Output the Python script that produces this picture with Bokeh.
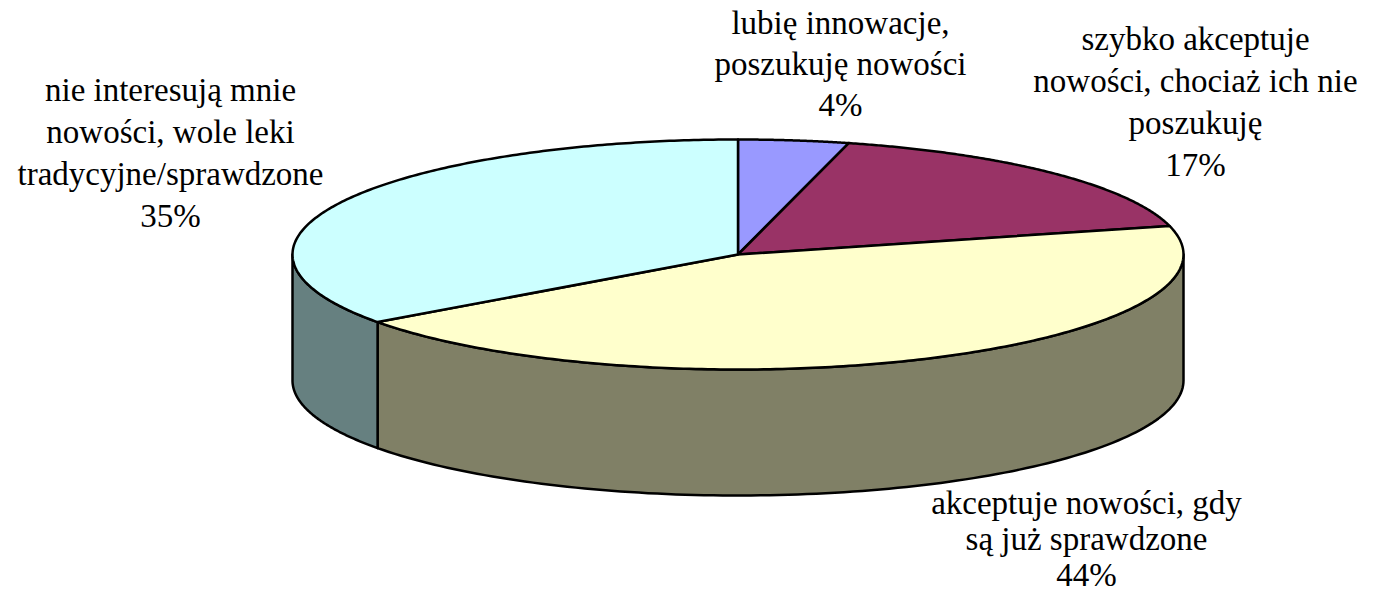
import numpy as np
from bokeh.plotting import figure
from bokeh.models import Range1d, ColumnDataSource
from bokeh.core.properties import value
from bokeh.embed import file_html
from bokeh.resources import INLINE

# ---- data ----
values = [4, 17, 44, 35]
label_lines = [
    ["lubię innowacje,", "poszukuję nowości"],
    ["szybko akceptuje", "nowości, chociaż ich nie", "poszukuję"],
    ["akceptuje nowości, gdy", "są już sprawdzone"],
    ["nie interesują mnie", "nowości, wole leki", "tradycyjne/sprawdzone"],
]
top_colors = ["#9999FF", "#993366", "#FFFFCC", "#CCFFFF"]
side_colors = ["#4C4C80", "#4C1933", "#808066", "#668080"]

# ---- layout (screen pixel coords of the reference) ----
cx, cy, rx, ry, depth = 737.5, 254.0, 445.5, 115.0, 126.0
base_shift = -14
label_anchor = [(840, 36, 41), (1195, 52, 42), (1086, 516, 36), (170, 103, 42)]

W, H = 1357, 598
p = figure(width=W, height=H, output_backend="svg", toolbar_location=None,
           x_range=Range1d(0, W), y_range=Range1d(H, 0),
           min_border=0, background_fill_color="white",
           border_fill_color="white", outline_line_color=None)
p.axis.visible = False
p.grid.visible = False


def ell(t, dy=0.0):
    r = np.radians(t)
    return cx + rx * np.sin(r), cy - ry * np.cos(r) + dy


total = float(sum(values))
bounds = np.concatenate([[0.0], np.cumsum(values) / total * 360.0])

# sides
sx, sy, sc = [], [], []
for i in range(len(values)):
    lo, hi = max(bounds[i], 90.0), min(bounds[i + 1], 270.0)
    if lo < hi:
        t = np.linspace(lo, hi, 120)
        x1, y1 = ell(t)
        x2, y2 = ell(t[::-1], depth)
        sx.append(list(np.concatenate([x1, x2])))
        sy.append(list(np.concatenate([y1, y2])))
        sc.append(side_colors[i])
p.patches(sx, sy, fill_color=sc, line_color="black", line_width=2.5,
          line_join="round")

# tops
tx, ty, tc = [], [], []
for i in range(len(values)):
    t = np.linspace(bounds[i], bounds[i + 1], 200)
    x1, y1 = ell(t)
    tx.append([cx] + list(x1))
    ty.append([cy] + list(y1))
    tc.append(top_colors[i])
p.patches(tx, ty, fill_color=tc, line_color="black", line_width=2.5,
          line_join="round")

# labels
lx, ly, lt = [], [], []
for i, lines in enumerate(label_lines):
    ax, ay, step = label_anchor[i]
    all_lines = lines + [f"{values[i]}%"]
    for k, s in enumerate(all_lines):
        lx.append(ax)
        ly.append(ay + k * step + base_shift)
        lt.append(s)
src = ColumnDataSource(dict(x=lx, y=ly, text=lt))
p.text(x="x", y="y", text="text", source=src, text_align="center",
       text_baseline="alphabetic", text_font=value("Liberation Serif"),
       text_font_size="33px", text_color="black")

open("out.html", "w").write(file_html(p, INLINE))
